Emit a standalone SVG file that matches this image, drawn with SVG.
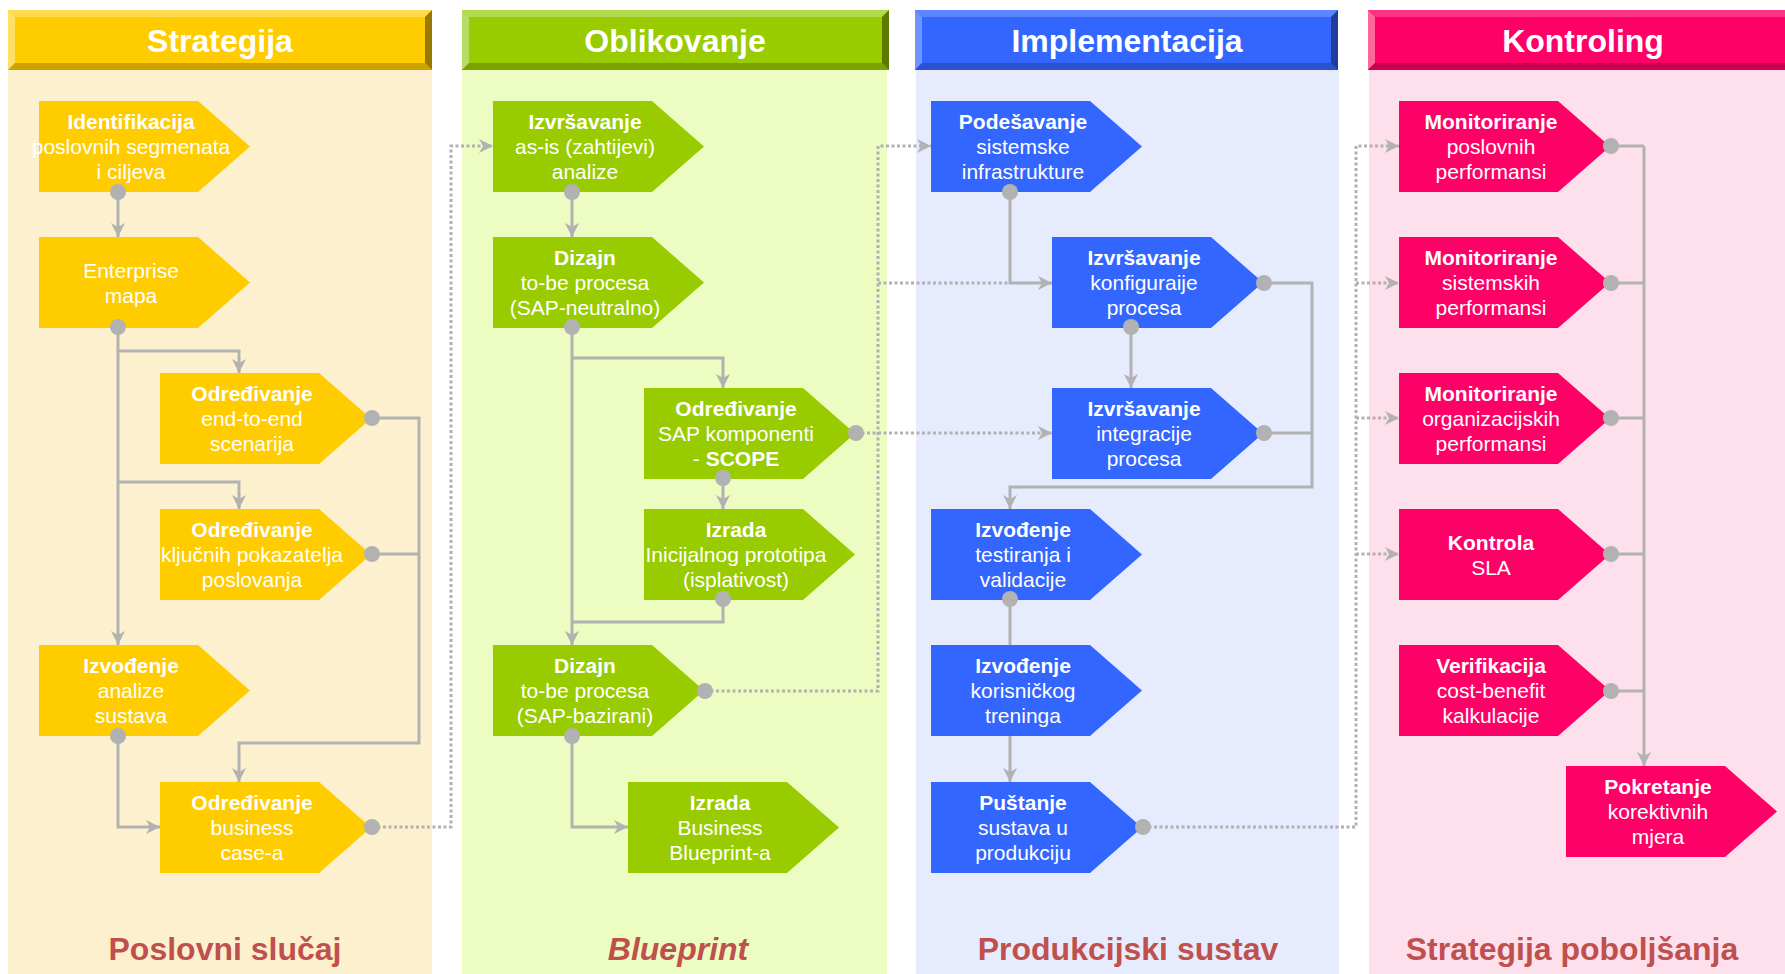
<svg xmlns="http://www.w3.org/2000/svg" width="1785" height="974" viewBox="0 0 1785 974">
<defs>
<style>
.t{font-family:"Liberation Sans",Arial,sans-serif;fill:#fff;font-size:21px;text-anchor:middle}
.b{font-weight:bold}
.h{font-family:"Liberation Sans",Arial,sans-serif;fill:#fff;font-size:32px;font-weight:bold;text-anchor:middle}
.f{font-family:"Liberation Sans",Arial,sans-serif;fill:#C0504D;font-size:32px;font-weight:bold;text-anchor:middle}
.c{fill:none;stroke:#B2B2B2;stroke-width:3}
.d{fill:none;stroke:#B2B2B2;stroke-width:3;stroke-dasharray:3 2.5}
.a{marker-end:url(#arr)}
.dot{fill:#B2B2B2}
.y{fill:#FFCC00}.g{fill:#99CC00}.bl{fill:#3366FF}.p{fill:#FF0066}
</style>
<path id="shape" d="M0,0 H159 L211,45.5 L159,91 H0 Z"/>
<marker id="arr" viewBox="0 0 14 14" refX="14" refY="7" markerWidth="14" markerHeight="14" markerUnits="userSpaceOnUse" orient="auto">
<path d="M0,0 L14,7 L0,14 L4,7 Z" fill="#B2B2B2"/>
</marker>
</defs>

<g id="lanes">
<rect x="8" y="70" width="424" height="904" fill="#FCF0CF"/>
<rect x="462" y="70" width="425" height="904" fill="#EDFCC0"/>
<rect x="916" y="70" width="423" height="904" fill="#E6ECFD"/>
<rect x="1369" y="70" width="416" height="904" fill="#FDE0EB"/>

<rect x="8" y="10" width="424" height="60" fill="#FFCC00"/>
<polygon points="8,10 432,10 425,17 15,17" fill="#FFDB4D"/>
<polygon points="8,10 15,17 15,63 8,70" fill="#FFE066"/>
<polygon points="8,70 15,63 425,63 432,70" fill="#CCA300"/>
<polygon points="432,10 432,70 425,63 425,17" fill="#997A00"/>
<text class="h" x="220" y="52">Strategija</text>

<rect x="462" y="10" width="427" height="60" fill="#99CC00"/>
<polygon points="462,10 889,10 882,17 469,17" fill="#B3D94D"/>
<polygon points="462,10 469,17 469,63 462,70" fill="#B8DB66"/>
<polygon points="462,70 469,63 882,63 889,70" fill="#7AA300"/>
<polygon points="889,10 889,70 882,63 882,17" fill="#5C7A00"/>
<text class="h" x="675" y="52">Oblikovanje</text>

<rect x="915" y="10" width="423" height="60" fill="#3366FF"/>
<polygon points="915,10 1338,10 1331,17 922,17" fill="#5C85FF"/>
<polygon points="915,10 922,17 922,63 915,70" fill="#7094FF"/>
<polygon points="915,70 922,63 1331,63 1338,70" fill="#2952CC"/>
<polygon points="1338,10 1338,70 1331,63 1331,17" fill="#1F3D99"/>
<text class="h" x="1127" y="52">Implementacija</text>

<rect x="1368" y="10" width="417" height="60" fill="#FF0066"/>
<polygon points="1368,10 1785,10 1785,17 1375,17" fill="#FF3385"/>
<polygon points="1368,10 1375,17 1375,63 1368,70" fill="#FF6699"/>
<polygon points="1368,70 1375,63 1785,63 1785,70" fill="#CC0052"/>
<text class="h" x="1583" y="52">Kontroling</text>

<text class="f" x="225" y="960">Poslovni slučaj</text>
<text class="f" x="678" y="960" font-style="italic">Blueprint</text>
<text class="f" x="1128" y="960">Produkcijski sustav</text>
<text class="f" x="1572" y="960">Strategija poboljšanja</text>
</g>

<g id="n1" transform="translate(39,101)"><use href="#shape" class="y"/><text class="t" x="92"><tspan class="b" x="92" y="28">Identifikacija</tspan><tspan x="92" y="53">poslovnih segmenata</tspan><tspan x="92" y="78">i ciljeva</tspan></text></g>
<g id="n2" transform="translate(39,237)"><use href="#shape" class="y"/><text class="t" x="92"><tspan x="92" y="41">Enterprise</tspan><tspan x="92" y="66">mapa</tspan></text></g>
<g id="n3" transform="translate(160,373)"><use href="#shape" class="y"/><text class="t" x="92"><tspan class="b" x="92" y="28">Određivanje</tspan><tspan x="92" y="53">end-to-end</tspan><tspan x="92" y="78">scenarija</tspan></text></g>
<g id="n4" transform="translate(160,509)"><use href="#shape" class="y"/><text class="t" x="92"><tspan class="b" x="92" y="28">Određivanje</tspan><tspan x="92" y="53">ključnih pokazatelja</tspan><tspan x="92" y="78">poslovanja</tspan></text></g>
<g id="n5" transform="translate(39,645)"><use href="#shape" class="y"/><text class="t" x="92"><tspan class="b" x="92" y="28">Izvođenje</tspan><tspan x="92" y="53">analize</tspan><tspan x="92" y="78">sustava</tspan></text></g>
<g id="n6" transform="translate(160,782)"><use href="#shape" class="y"/><text class="t" x="92"><tspan class="b" x="92" y="28">Određivanje</tspan><tspan x="92" y="53">business</tspan><tspan x="92" y="78">case-a</tspan></text></g>

<g id="m1" transform="translate(493,101)"><use href="#shape" class="g"/><text class="t" x="92"><tspan class="b" x="92" y="28">Izvršavanje</tspan><tspan x="92" y="53">as-is (zahtijevi)</tspan><tspan x="92" y="78">analize</tspan></text></g>
<g id="m2" transform="translate(493,237)"><use href="#shape" class="g"/><text class="t" x="92"><tspan class="b" x="92" y="28">Dizajn</tspan><tspan x="92" y="53">to-be procesa</tspan><tspan x="92" y="78">(SAP-neutralno)</tspan></text></g>
<g id="m3" transform="translate(644,388)"><use href="#shape" class="g"/><text class="t" x="92"><tspan class="b" x="92" y="28">Određivanje</tspan><tspan x="92" y="53">SAP komponenti</tspan><tspan x="92" y="78">- <tspan class="b">SCOPE</tspan></tspan></text></g>
<g id="m4" transform="translate(644,509)"><use href="#shape" class="g"/><text class="t" x="92"><tspan class="b" x="92" y="28">Izrada</tspan><tspan x="92" y="53">Inicijalnog prototipa</tspan><tspan x="92" y="78">(isplativost)</tspan></text></g>
<g id="m5" transform="translate(493,645)"><use href="#shape" class="g"/><text class="t" x="92"><tspan class="b" x="92" y="28">Dizajn</tspan><tspan x="92" y="53">to-be procesa</tspan><tspan x="92" y="78">(SAP-bazirani)</tspan></text></g>
<g id="m6" transform="translate(628,782)"><use href="#shape" class="g"/><text class="t" x="92"><tspan class="b" x="92" y="28">Izrada</tspan><tspan x="92" y="53">Business</tspan><tspan x="92" y="78">Blueprint-a</tspan></text></g>

<g id="i1" transform="translate(931,101)"><use href="#shape" class="bl"/><text class="t" x="92"><tspan class="b" x="92" y="28">Podešavanje</tspan><tspan x="92" y="53">sistemske</tspan><tspan x="92" y="78">infrastrukture</tspan></text></g>
<g id="i2" transform="translate(1052,237)"><use href="#shape" class="bl"/><text class="t" x="92"><tspan class="b" x="92" y="28">Izvršavanje</tspan><tspan x="92" y="53">konfiguraije</tspan><tspan x="92" y="78">procesa</tspan></text></g>
<g id="i3" transform="translate(1052,388)"><use href="#shape" class="bl"/><text class="t" x="92"><tspan class="b" x="92" y="28">Izvršavanje</tspan><tspan x="92" y="53">integracije</tspan><tspan x="92" y="78">procesa</tspan></text></g>
<g id="i4" transform="translate(931,509)"><use href="#shape" class="bl"/><text class="t" x="92"><tspan class="b" x="92" y="28">Izvođenje</tspan><tspan x="92" y="53">testiranja i</tspan><tspan x="92" y="78">validacije</tspan></text></g>
<g id="i5" transform="translate(931,645)"><use href="#shape" class="bl"/><text class="t" x="92"><tspan class="b" x="92" y="28">Izvođenje</tspan><tspan x="92" y="53">korisničkog</tspan><tspan x="92" y="78">treninga</tspan></text></g>
<g id="i6" transform="translate(931,782)"><use href="#shape" class="bl"/><text class="t" x="92"><tspan class="b" x="92" y="28">Puštanje</tspan><tspan x="92" y="53">sustava u</tspan><tspan x="92" y="78">produkciju</tspan></text></g>

<g id="k1" transform="translate(1399,101)"><use href="#shape" class="p"/><text class="t" x="92"><tspan class="b" x="92" y="28">Monitoriranje</tspan><tspan x="92" y="53">poslovnih</tspan><tspan x="92" y="78">performansi</tspan></text></g>
<g id="k2" transform="translate(1399,237)"><use href="#shape" class="p"/><text class="t" x="92"><tspan class="b" x="92" y="28">Monitoriranje</tspan><tspan x="92" y="53">sistemskih</tspan><tspan x="92" y="78">performansi</tspan></text></g>
<g id="k3" transform="translate(1399,373)"><use href="#shape" class="p"/><text class="t" x="92"><tspan class="b" x="92" y="28">Monitoriranje</tspan><tspan x="92" y="53">organizacijskih</tspan><tspan x="92" y="78">performansi</tspan></text></g>
<g id="k4" transform="translate(1399,509)"><use href="#shape" class="p"/><text class="t" x="92"><tspan class="b" x="92" y="41">Kontrola</tspan><tspan x="92" y="66">SLA</tspan></text></g>
<g id="k5" transform="translate(1399,645)"><use href="#shape" class="p"/><text class="t" x="92"><tspan class="b" x="92" y="28">Verifikacija</tspan><tspan x="92" y="53">cost-benefit</tspan><tspan x="92" y="78">kalkulacije</tspan></text></g>
<g id="k6" transform="translate(1566,766)"><use href="#shape" class="p"/><text class="t" x="92"><tspan class="b" x="92" y="28">Pokretanje</tspan><tspan x="92" y="53">korektivnih</tspan><tspan x="92" y="78">mjera</tspan></text></g>

<g id="connectors">
<path class="c a" d="M118,192 V237"/>
<path class="c a" d="M118,327 V645"/>
<path class="c a" d="M118,351 H239 V373"/>
<path class="c a" d="M118,482 H239 V509"/>
<path class="c a" d="M372,418 H419 V743 H239 V782"/>
<path class="c" d="M372,554 H419"/>
<path class="c a" d="M118,736 V827 H160"/>
<path class="d a" d="M372,827 H451 V146 H493"/>
<path class="c a" d="M572,192 V237"/>
<path class="c a" d="M572,327 V645"/>
<path class="c a" d="M572,358 H723 V388"/>
<path class="c a" d="M723,478 V509"/>
<path class="c" d="M723,599 V622 H572"/>
<path class="c a" d="M572,736 V827 H628"/>
<path class="d a" d="M856,433 H1052"/>
<path class="d a" d="M705,691 H878 V146 H931"/>
<path class="d" d="M878,283 H1010"/>
<path class="c a" d="M1010,192 V283 H1052"/>
<path class="c a" d="M1264,283 H1312 V487 H1010 V509"/>
<path class="c" d="M1264,433 H1312"/>
<path class="c a" d="M1131,327 V388"/>
<path class="c" d="M1010,599 V645"/>
<path class="c a" d="M1010,736 V782"/>
<path class="d a" d="M1143,827 H1356 V146 H1399"/>
<path class="d a" d="M1356,283 H1399"/>
<path class="d a" d="M1356,418 H1399"/>
<path class="d a" d="M1356,554 H1399"/>
<path class="c" d="M1611,146 H1644"/>
<path class="c" d="M1611,283 H1644"/>
<path class="c" d="M1611,418 H1644"/>
<path class="c" d="M1611,554 H1644"/>
<path class="c" d="M1611,691 H1644"/>
<path class="c a" d="M1644,146 V766"/>
<circle class="dot" cx="118" cy="192" r="8"/>
<circle class="dot" cx="118" cy="327" r="8"/>
<circle class="dot" cx="372" cy="418" r="8"/>
<circle class="dot" cx="372" cy="554" r="8"/>
<circle class="dot" cx="118" cy="736" r="8"/>
<circle class="dot" cx="372" cy="827" r="8"/>
<circle class="dot" cx="572" cy="192" r="8"/>
<circle class="dot" cx="572" cy="327" r="8"/>
<circle class="dot" cx="856" cy="433" r="8"/>
<circle class="dot" cx="723" cy="478" r="8"/>
<circle class="dot" cx="723" cy="599" r="8"/>
<circle class="dot" cx="705" cy="691" r="8"/>
<circle class="dot" cx="572" cy="736" r="8"/>
<circle class="dot" cx="1010" cy="192" r="8"/>
<circle class="dot" cx="1264" cy="283" r="8"/>
<circle class="dot" cx="1131" cy="327" r="8"/>
<circle class="dot" cx="1264" cy="433" r="8"/>
<circle class="dot" cx="1010" cy="599" r="8"/>
<circle class="dot" cx="1143" cy="827" r="8"/>
<circle class="dot" cx="1611" cy="146" r="8"/>
<circle class="dot" cx="1611" cy="283" r="8"/>
<circle class="dot" cx="1611" cy="418" r="8"/>
<circle class="dot" cx="1611" cy="554" r="8"/>
<circle class="dot" cx="1611" cy="691" r="8"/>
</g>
</svg>
